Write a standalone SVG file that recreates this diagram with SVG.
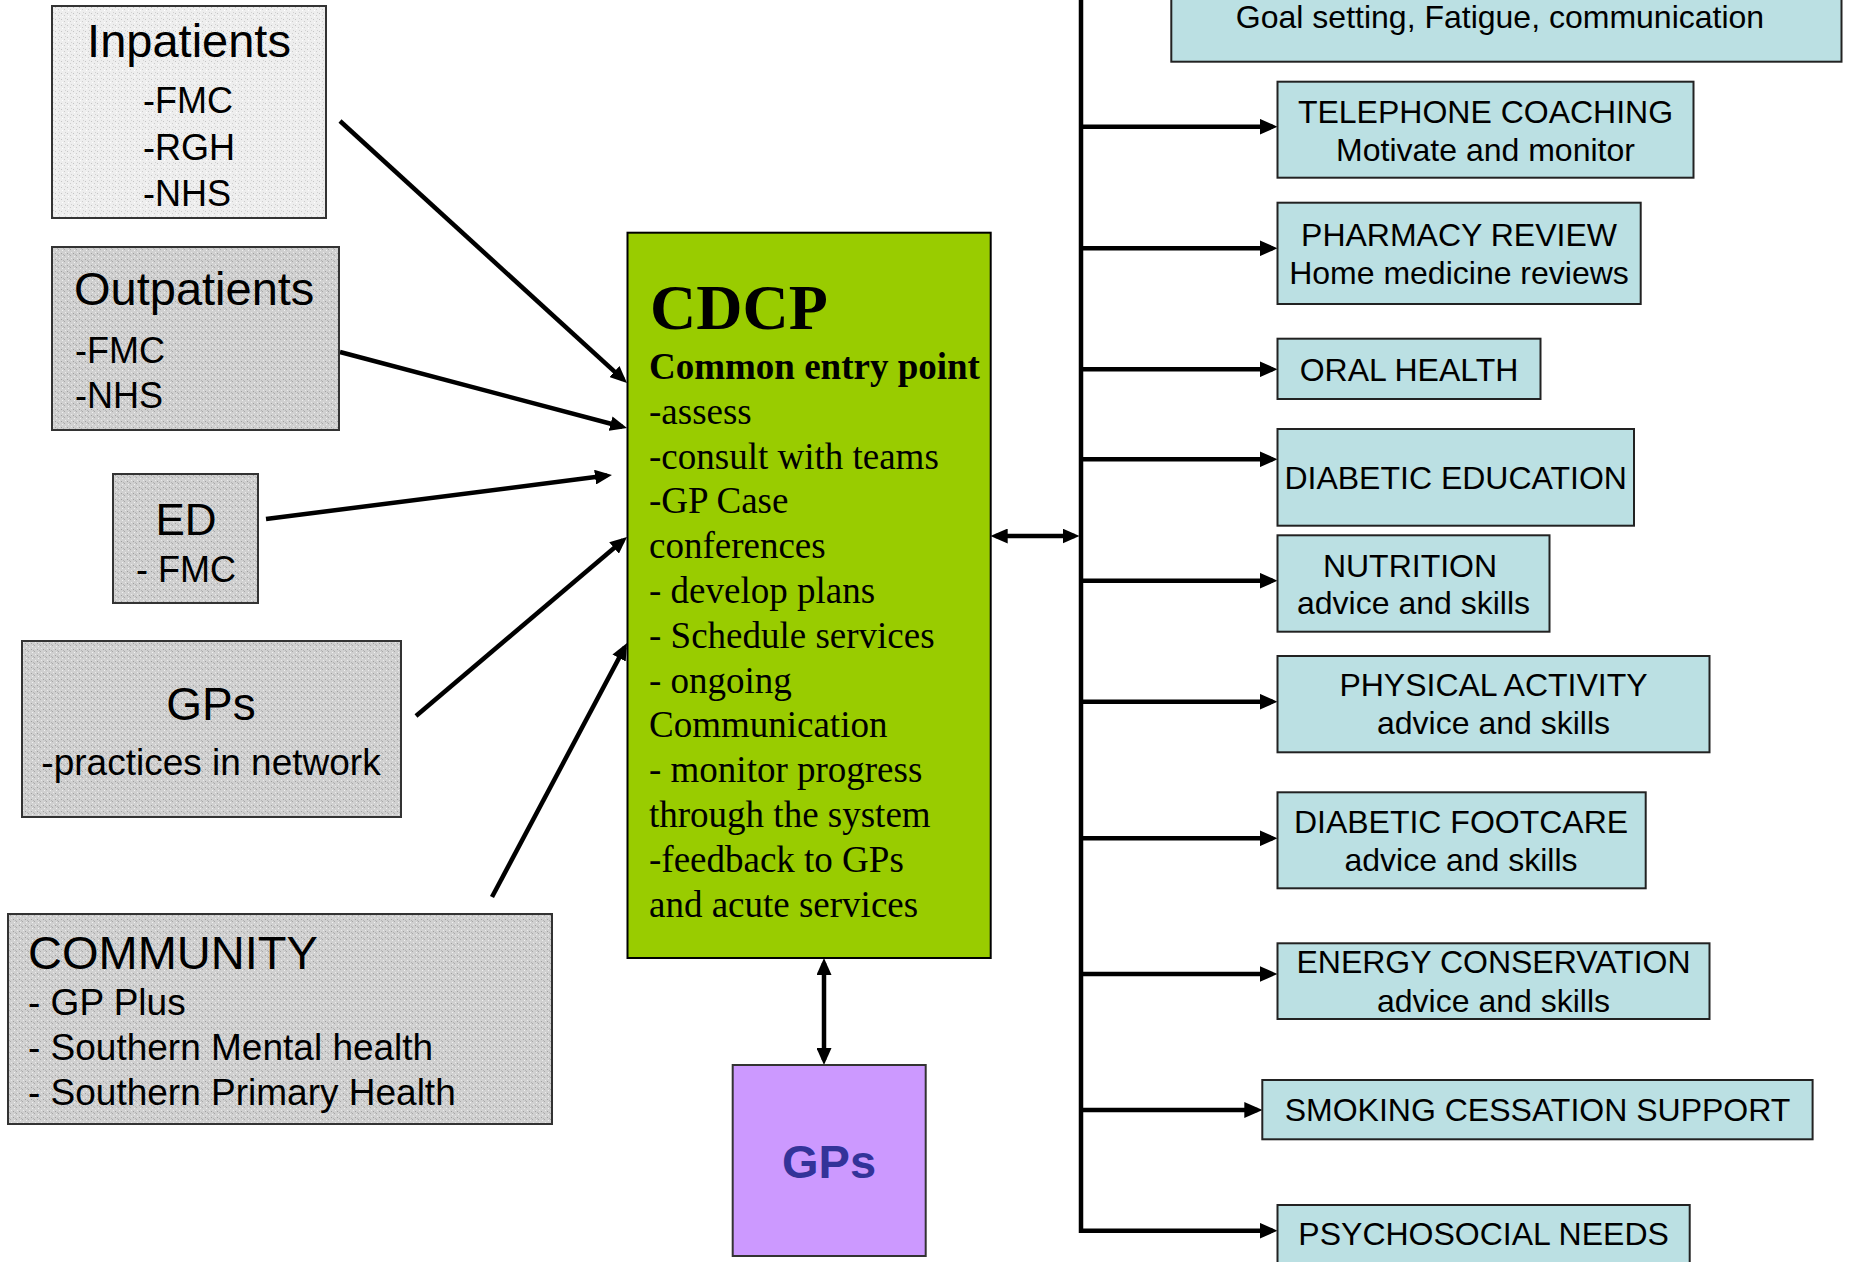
<svg xmlns="http://www.w3.org/2000/svg" width="1853" height="1262" viewBox="0 0 1853 1262">
<defs>
<pattern id="texLight" width="6" height="6" patternUnits="userSpaceOnUse">
<rect width="6" height="6" fill="#eeeeee"/>
<rect x="1" y="1" width="1" height="1" fill="#c4c4c4"/>
<rect x="4" y="3" width="1" height="1" fill="#cccccc"/>
<rect x="2" y="4" width="1" height="1" fill="#ffffff"/>
<rect x="5" y="0" width="1" height="1" fill="#d2d2d2"/>
</pattern>
<pattern id="texDark" width="6" height="6" patternUnits="userSpaceOnUse">
<rect width="6" height="6" fill="#d0d0d0"/>
<rect x="1" y="1" width="1" height="1" fill="#a0a0a0"/>
<rect x="4" y="3" width="1" height="1" fill="#a8a8a8"/>
<rect x="2" y="4" width="1" height="1" fill="#f0f0f0"/>
<rect x="5" y="0" width="1" height="1" fill="#eaeaea"/>
<rect x="3" y="2" width="1" height="1" fill="#b4b4b4"/>
</pattern>
<marker id="ah" viewBox="0 0 18 16" markerWidth="18" markerHeight="16" refX="13" refY="8" orient="auto-start-reverse" markerUnits="userSpaceOnUse">
<path d="M0,0 L18,8 L0,16 z" fill="#000"/>
</marker>
<marker id="ahs" viewBox="0 0 17 15" markerWidth="17" markerHeight="15" refX="12" refY="7.5" orient="auto-start-reverse" markerUnits="userSpaceOnUse">
<path d="M0,0 L17,7.5 L0,15 z" fill="#000"/>
</marker>
</defs>
<style>
.src{stroke:#333;stroke-width:2}
.svc{fill:#bbe0e3;stroke:#222;stroke-width:2}
.sans{font-family:"Liberation Sans",Arial,sans-serif;fill:#000}
.serif{font-family:"Liberation Serif","Times New Roman",serif;fill:#000}
.t47{font-size:47px}
.t36{font-size:36px}
.t37{font-size:37px}
.t32{font-size:32px}
.mid{text-anchor:middle}
.conn{fill:none;stroke:#000;stroke-width:4.5}
</style>
<rect width="1853" height="1262" fill="#fff"/>

<g id="connectors">
<path class="conn" d="M340,121 L623.3,379.6" marker-end="url(#ahs)"/>
<path class="conn" d="M340,352 L622.2,426.7" marker-end="url(#ahs)"/>
<path class="conn" d="M266,519 L607,475.6" marker-end="url(#ahs)"/>
<path class="conn" d="M416,716 L623.2,540.2" marker-end="url(#ahs)"/>
<path class="conn" d="M492,897 L624.7,647.4" marker-end="url(#ahs)"/>
<path class="conn" d="M995.7,536 L1074.5,536" marker-start="url(#ahs)" marker-end="url(#ahs)"/>
<path class="conn" d="M824,963 L824,1060" marker-start="url(#ahs)" marker-end="url(#ahs)"/>
<path class="conn" d="M1081,-5 L1081,1230.7 L1272.5,1230.7" marker-end="url(#ah)"/>
<path class="conn" d="M1081,126.7 L1272.5,126.7" marker-end="url(#ah)"/>
<path class="conn" d="M1081,248.3 L1272.5,248.3" marker-end="url(#ah)"/>
<path class="conn" d="M1081,369.3 L1272.5,369.3" marker-end="url(#ah)"/>
<path class="conn" d="M1081,459.3 L1272.5,459.3" marker-end="url(#ah)"/>
<path class="conn" d="M1081,580.7 L1272.5,580.7" marker-end="url(#ah)"/>
<path class="conn" d="M1081,701.7 L1272.5,701.7" marker-end="url(#ah)"/>
<path class="conn" d="M1081,838.3 L1272.5,838.3" marker-end="url(#ah)"/>
<path class="conn" d="M1081,974 L1272.5,974" marker-end="url(#ah)"/>
<path class="conn" d="M1081,1110 L1257.3,1110" marker-end="url(#ah)"/>
</g>

<g id="inpatients">
<rect class="src" x="52" y="6" width="274" height="212" fill="url(#texLight)"/>
<text class="sans t47 mid" x="189" y="57">Inpatients</text>
<text class="sans t36" x="143" y="113">-FMC</text>
<text class="sans t36" x="143" y="160">-RGH</text>
<text class="sans t36" x="143" y="206">-NHS</text>
</g>

<g id="outpatients">
<rect class="src" x="52" y="247" width="287" height="183" fill="url(#texDark)"/>
<text class="sans t47" x="74" y="305">Outpatients</text>
<text class="sans t36" x="75" y="363">-FMC</text>
<text class="sans t36" x="75" y="408">-NHS</text>
</g>

<g id="ed">
<rect class="src" x="113" y="474" width="145" height="129" fill="url(#texDark)"/>
<text class="sans mid" style="font-size:44px" x="186" y="535">ED</text>
<text class="sans t36 mid" x="186" y="582">- FMC</text>
</g>

<g id="gps-left">
<rect class="src" x="22" y="641" width="379" height="176" fill="url(#texDark)"/>
<text class="sans mid" style="font-size:46px" x="211" y="720">GPs</text>
<text class="sans t37 mid" x="211" y="775">-practices in network</text>
</g>

<g id="community">
<rect class="src" x="8" y="914" width="544" height="210" fill="url(#texDark)"/>
<text class="sans t47" x="28" y="969">COMMUNITY</text>
<text class="sans t37" x="28" y="1015">- GP Plus</text>
<text class="sans t37" x="28" y="1060">- Southern Mental health</text>
<text class="sans t37" x="28" y="1105">- Southern Primary Health</text>
</g>

<g id="cdcp">
<rect x="627.5" y="232.7" width="363.2" height="725.3" fill="#99cc00" stroke="#000" stroke-width="2"/>
<text class="serif" style="font-size:64px;font-weight:bold" x="650" y="329">CDCP</text>
<text class="serif t37" style="font-weight:bold" x="649" y="379">Common entry point</text>
<text class="serif t37" x="649" y="423.8">-assess</text>
<text class="serif t37" x="649" y="468.6">-consult with teams</text>
<text class="serif t37" x="649" y="513.4">-GP Case</text>
<text class="serif t37" x="649" y="558.2">conferences</text>
<text class="serif t37" x="649" y="603">- develop plans</text>
<text class="serif t37" x="649" y="647.8">- Schedule services</text>
<text class="serif t37" x="649" y="692.6">- ongoing</text>
<text class="serif t37" x="649" y="737.4">Communication</text>
<text class="serif t37" x="649" y="782.2">- monitor progress</text>
<text class="serif t37" x="649" y="827">through the system</text>
<text class="serif t37" x="649" y="871.8">-feedback to GPs</text>
<text class="serif t37" x="649" y="916.6">and acute services</text>
</g>

<g id="gps-bottom">
<rect x="732.7" y="1065" width="193" height="191" fill="#cc99ff" stroke="#333" stroke-width="2"/>
<text class="mid" style="font-family:'Liberation Sans',Arial,sans-serif;font-size:47px;font-weight:bold;fill:#333399" x="829" y="1178">GPs</text>
</g>

<g id="goal-setting">
<rect class="svc" x="1171.3" y="-60" width="670.2" height="121.7"/>
<text class="sans t32 mid" x="1500" y="28">Goal setting, Fatigue, communication</text>
</g>

<g id="telephone-coaching">
<rect class="svc" x="1277.5" y="81.7" width="416" height="96"/>
<text class="sans t32 mid" x="1485.5" y="122.7">TELEPHONE COACHING</text>
<text class="sans t32 mid" x="1485.5" y="161">Motivate and monitor</text>
</g>

<g id="pharmacy-review">
<rect class="svc" x="1277.5" y="202.7" width="363.2" height="101.3"/>
<text class="sans t32 mid" x="1459" y="246">PHARMACY REVIEW</text>
<text class="sans t32 mid" x="1459" y="284.3">Home medicine reviews</text>
</g>

<g id="oral-health">
<rect class="svc" x="1277.5" y="338.7" width="263" height="60.3"/>
<text class="sans t32 mid" x="1409" y="380.7">ORAL HEALTH</text>
</g>

<g id="diabetic-education">
<rect class="svc" x="1277.5" y="429" width="356.5" height="96.7"/>
<text class="sans t32 mid" x="1455.7" y="489.3">DIABETIC EDUCATION</text>
</g>

<g id="nutrition">
<rect class="svc" x="1277.5" y="535.3" width="272" height="96.4"/>
<text class="sans t32 mid" x="1410" y="576.7">NUTRITION</text>
<text class="sans t32 mid" x="1413.5" y="614">advice and skills</text>
</g>

<g id="physical-activity">
<rect class="svc" x="1277.5" y="656" width="432" height="96.3"/>
<text class="sans t32 mid" x="1493.5" y="696">PHYSICAL ACTIVITY</text>
<text class="sans t32 mid" x="1493.5" y="734.3">advice and skills</text>
</g>

<g id="diabetic-footcare">
<rect class="svc" x="1277.5" y="792.3" width="368.2" height="96"/>
<text class="sans t32 mid" x="1461" y="832.7">DIABETIC FOOTCARE</text>
<text class="sans t32 mid" x="1461" y="870.7">advice and skills</text>
</g>

<g id="energy-conservation">
<rect class="svc" x="1277.5" y="943.3" width="432" height="75.7"/>
<text class="sans t32 mid" x="1493.5" y="972.7">ENERGY CONSERVATION</text>
<text class="sans t32 mid" x="1493.5" y="1011.7">advice and skills</text>
</g>

<g id="smoking-cessation">
<rect class="svc" x="1262.3" y="1080" width="550.3" height="59.3"/>
<text class="sans t32 mid" x="1537.5" y="1121">SMOKING CESSATION SUPPORT</text>
</g>

<g id="psychosocial-needs">
<rect class="svc" x="1277.5" y="1205" width="412.2" height="80"/>
<text class="sans t32 mid" x="1483.6" y="1245">PSYCHOSOCIAL NEEDS</text>
</g>
</svg>
